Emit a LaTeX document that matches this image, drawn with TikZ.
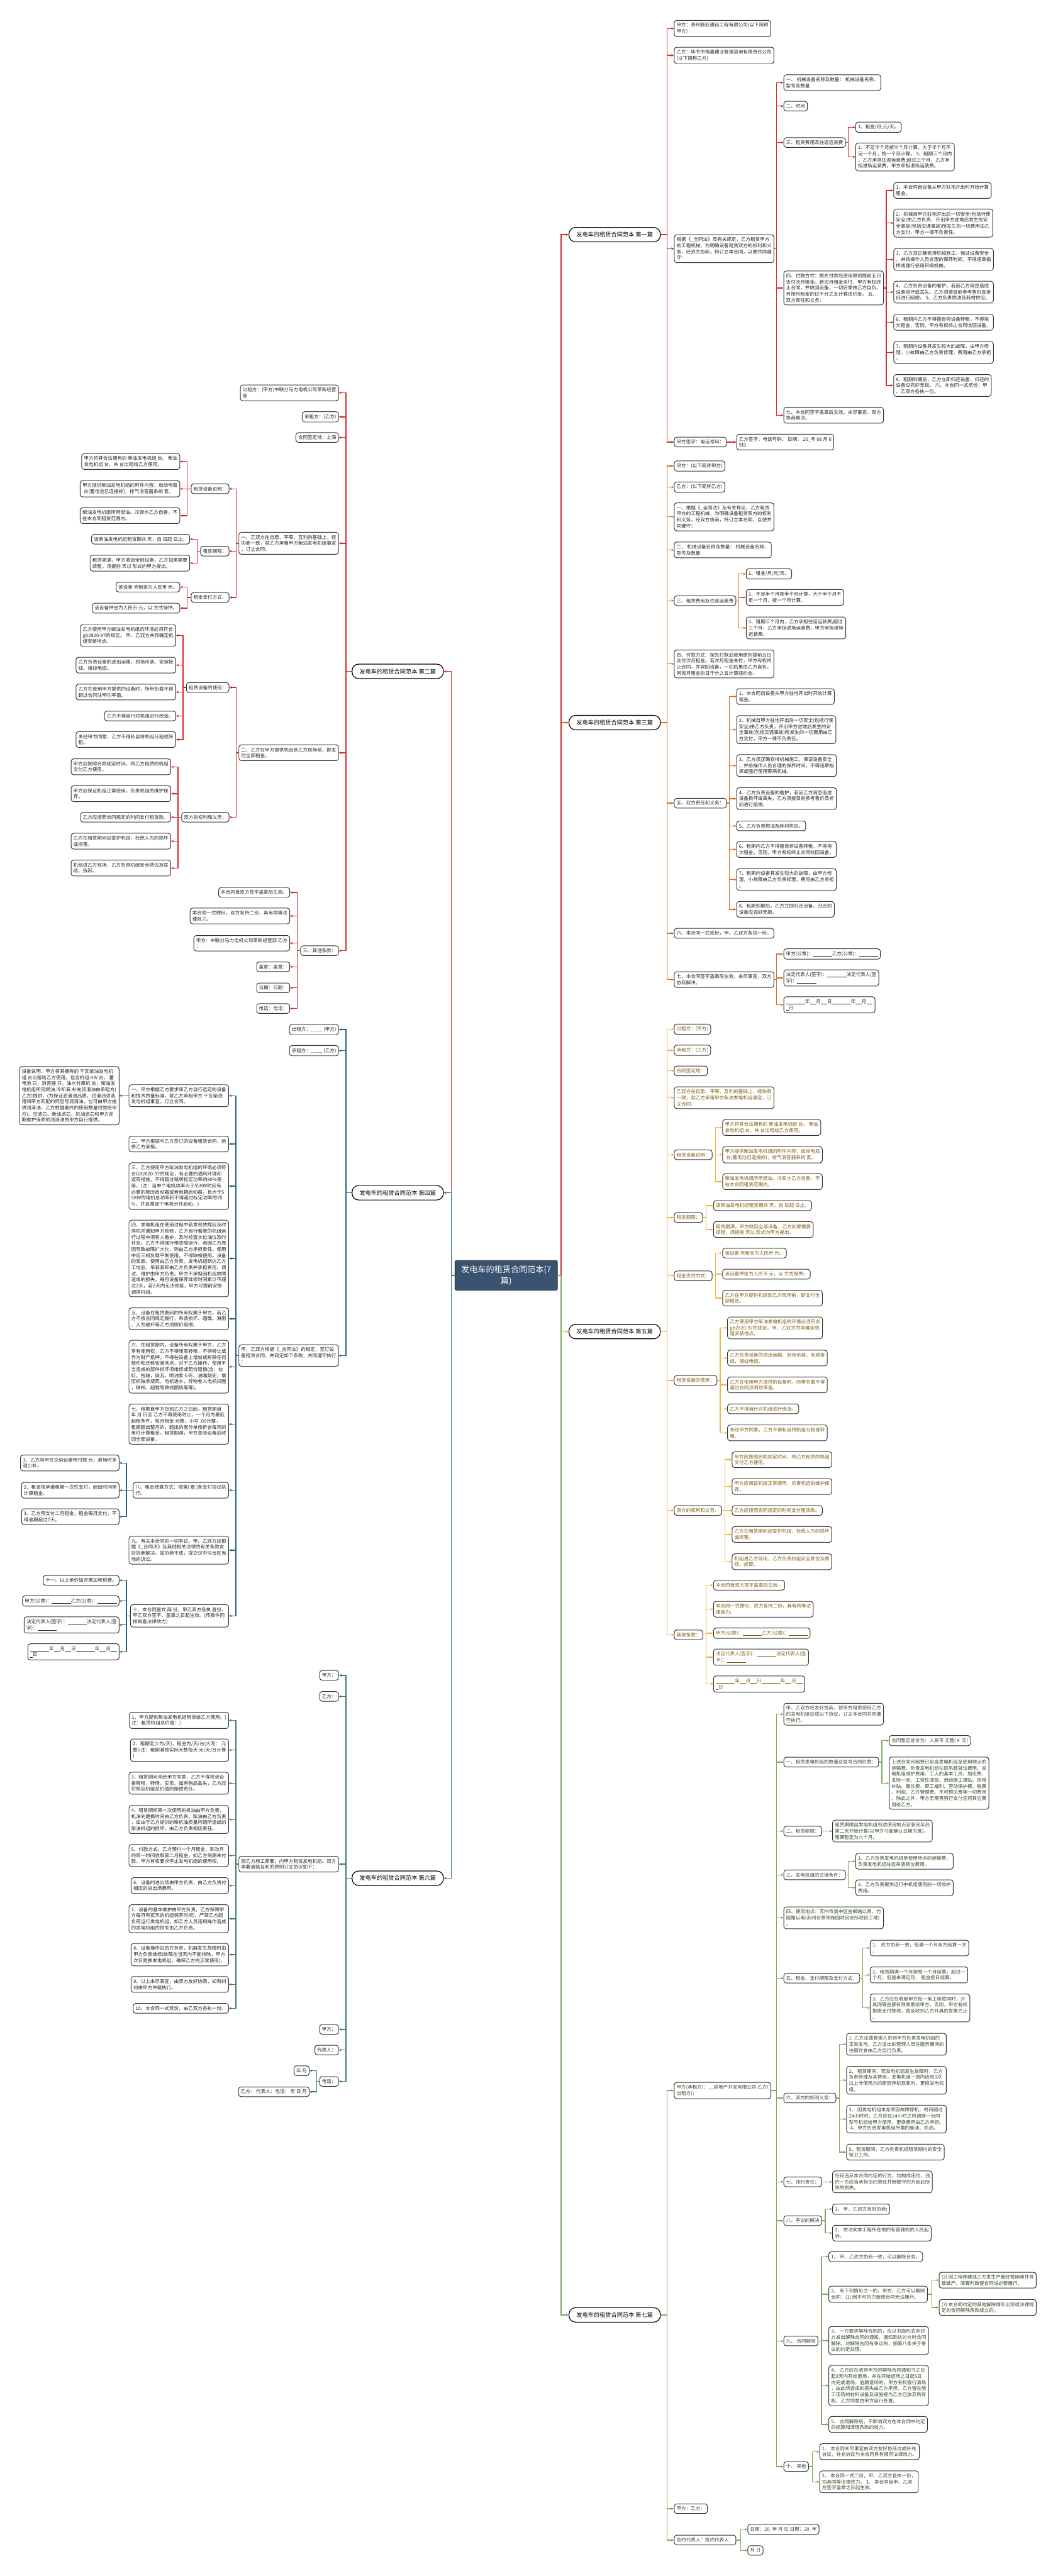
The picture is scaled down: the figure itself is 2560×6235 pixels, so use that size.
\documentclass[tikz,border=0pt]{standalone}
\usepackage{fontspec}
\setmainfont{Noto Sans CJK SC}
\usetikzlibrary{arrows.meta}
\definecolor{cR}{RGB}{210,45,40}
\definecolor{cO}{RGB}{214,110,40}
\definecolor{cB}{RGB}{35,100,135}
\definecolor{cY}{RGB}{236,182,72}
\definecolor{cT}{RGB}{60,125,120}
\definecolor{cG}{RGB}{125,170,95}
\definecolor{cN}{RGB}{58,83,112}
\definecolor{tY}{RGB}{125,90,15}
\definecolor{tG}{RGB}{50,70,40}
\definecolor{tD}{RGB}{35,35,35}
\newcommand\blankL{\rule[-1pt]{23pt}{0.45pt}}
\newcommand\blankS{\rule[-1pt]{7.5pt}{0.45pt}}
\newcommand\blankX{\rule[-1pt]{3pt}{0.45pt}}
\newcommand\conR[3]{\foreach \kid in {#3}{\draw[ln,color=#1] (#2.east) -| ([xshift=-8.5pt]\kid.west) -- (\kid.west);}}
\newcommand\conL[3]{\foreach \kid in {#3}{\draw[ln,color=#1] (#2.west) -| ([xshift=8.5pt]\kid.east) -- (\kid.east);}}
\tikzset{
  box/.style={draw=black!80, line width=0.75pt, rounded corners=3pt, fill=white, align=left, inner xsep=2.8pt, inner ysep=3.2pt, font=\fontsize{5.75pt}{7.35pt}\selectfont},
  R/.style={box, anchor=west},
  L/.style={box, anchor=east},
  lab/.style={draw=black, line width=0.9pt, rounded corners=8pt, fill=white, minimum height=17.5pt, inner xsep=9pt, font=\fontsize{7pt}{8.5pt}\selectfont, text=black},
  ln/.style={line width=1pt, -{Stealth[length=3.2pt,width=3pt]}},
}
\begin{document}
\begin{tikzpicture}[x=0.5pt,y=-0.5pt]
\useasboundingbox (0,0) rectangle (2560,6235);
\fill[white] (0,0) rectangle (2560,6235);

% central node and branch labels
\node[fill=cN, draw=black!80, line width=0.75pt, rounded corners=2pt, text=white, align=center, minimum width=124pt, minimum height=36pt, font=\fontsize{10pt}{13.5pt}\selectfont] (ctr) at (1225,3087) {发电车的租赁合同范本(7\\篇)};
\node[lab, anchor=west] (b1) at (1376,568) {发电车的租赁合同范本 第一篇};
\node[lab, anchor=west] (b3) at (1376,1749) {发电车的租赁合同范本 第三篇};
\node[lab, anchor=west] (b5) at (1376,3223) {发电车的租赁合同范本 第五篇};
\node[lab, anchor=west] (b7) at (1376,5603) {发电车的租赁合同范本 第七篇};
\node[lab, anchor=east] (b2) at (1074,1625) {发电车的租赁合同范本 第二篇};
\node[lab, anchor=east] (b4) at (1074,2887) {发电车的租赁合同范本 第四篇};
\node[lab, anchor=east] (b6) at (1074,4546) {发电车的租赁合同范本 第六篇};

\draw[ln,color=cO] (ctr.east) -| ([xshift=-9pt]b3.west) -- (b3.west);
\draw[ln,color=cR] (ctr.east) -| ([xshift=-9pt]b1.west) -- (b1.west);
\draw[ln,color=cY] (ctr.east) -| ([xshift=-9pt]b5.west) -- (b5.west);
\draw[ln,color=cG] (ctr.east) -| ([xshift=-9pt]b7.west) -- (b7.west);
\draw[ln,color=cR] (ctr.west) -| ([xshift=9pt]b2.east) -- (b2.east);
\draw[ln,color=cB] (ctr.west) -| ([xshift=9pt]b4.east) -- (b4.east);
\draw[ln,color=cT] (ctr.west) -| ([xshift=9pt]b6.east) -- (b6.east);

% ===== Branch 1 =====
\begin{scope}[every node/.append style={text=tD}]
\node[R] (a1) at (1631,69) {甲方：贵州腾亚建设工程有限公司(以下简称\\甲方)};
\node[R] (a2) at (1631,134) {乙方：毕节市恒鑫建业管理咨询有限责任公司\\(以下简称乙方)};
\node[R] (a3) at (1631,602) {根据《\_全同法》及有关规定，乙方租赁甲方\\的工程机械，为明确设备租赁双方的权利和义\\务，经双方协商，特订立本合同，以便共同遵\\守：};
\node[R] (a4) at (1631,1070) {甲方签字：电话号码：};
\node[R] (a4a) at (1782,1070) {乙方签字：电话号码： 日期： 20\_年 08 月 0\\9日};
\node[R] (a3a) at (1896,200) {一、 机械设备名称及数量： 机械设备名称、\\型号及数量};
\node[R] (a3b) at (1896,257) {二、时间};
\node[R] (a3c) at (1896,345) {三、租赁费用及往返运装费};
\node[R] (a3c1) at (2070,308) {1、租金/月;元/天。};
\node[R] (a3c2) at (2070,380) {2、不足半个月按半个月计算，大于半个月不\\足一个月，按一个月计算。 3、租期三个月内\\，乙方承担往返运装费;超过三个月，乙方承\\担进场运装费，甲方承担退场运装费。};
\node[R] (a3d) at (1896,697) {四、付款方式：按先付款后使用原则提前五日\\支付次月租金。若次月租金未付，甲方有权终\\止合同，并收回设备，一切后果由乙方自负。\\另按月租金的日千分之五计算违约金。 五、\\双方责任和义务：};
\node[R] (a3d1) at (2162,461) {1、本合同自设备从甲方驻地开出时开始计算\\租金。};
\node[R] (a3d2) at (2162,540) {2、机械自甲方驻地开出后一切安全(包括行使\\安全)由乙方负责，开出甲方驻地后发生的安\\全事故(包括交通事故)所发生的一切费用由乙\\方支付，甲方一律不负责任。};
\node[R] (a3d3) at (2162,628) {3、乙方须正确安排机械施工，保证设备安全\\，并给操作人员合理的保养时间，不得违章指\\挥或强行使用带病机械。};
\node[R] (a3d4) at (2162,707) {4、乙方负责设备的看护，若因乙方疏忽造成\\设备损坏或丢失，乙方须按目前参考售价及折\\旧进行赔偿。 5、乙方负责燃油及耗材供应。};
\node[R] (a3d5) at (2162,780) {6、租期内乙方不得擅自将设备转租，不得拖\\欠租金，否则，甲方有权终止合同收回设备。};
\node[R] (a3d6) at (2162,853) {7、租期内设备其发生较大的故障，由甲方修\\理。小故障由乙方负责修理，费用由乙方承担\\。};
\node[R] (a3d7) at (2162,933) {8、租期到期后，乙方立即归还设备，归还的\\设备应完好无损。 六、本合同一式贰份，甲\\、乙双方各执一份。};
\node[R] (a3e) at (1896,1005) {七、本合同签字盖章后生效。未尽事宜，双方\\协商解决。};
\end{scope}
\conR{cR}{b1}{a1,a2,a3,a4}
\conR{cR}{a4}{a4a}
\conR{cR}{a3}{a3a,a3b,a3c,a3d,a3e}
\conR{cR}{a3c}{a3c1,a3c2}
\conR{cR}{a3d}{a3d1,a3d2,a3d3,a3d4,a3d5,a3d6,a3d7}

% ===== Branch 3 =====
\begin{scope}[every node/.append style={text=tD}]
\node[R] (c1) at (1631,1128) {甲方：(以下简称甲方)};
\node[R] (c2) at (1631,1179) {乙方：(以下简称乙方)};
\node[R] (c3) at (1631,1251) {一、根据《\_全同法》及有关规定，乙方租赁\\甲方的工程机械，为明确设备租赁双方的权利\\和义务，经双方协商，特订立本合同，以便共\\同遵守：};
\node[R] (c4) at (1631,1331) {二、 机械设备名称及数量： 机械设备名称、\\型号及数量};
\node[R] (c5) at (1631,1454) {三、租赁费用及往返运装费};
\node[R] (c5a) at (1805,1389) {1、租金/月;元/天。};
\node[R] (c5b) at (1805,1446) {2、不足半个月按半个月计算，大于半个月不\\足一个月，按一个月计算。};
\node[R] (c5c) at (1805,1520) {3、租期三个月内，乙方承担往返运装费;超过\\三个月，乙方承担进场运装费，甲方承担退场\\运装费。};
\node[R] (c6) at (1631,1607) {四、付款方式：按先付款后使用原则提前五日\\支付次月租金。若次月租金未付，甲方有权终\\止合同，并收回设备，一切后果由乙方自负。\\另按月租金的日千分之五计算违约金。};
\node[R] (c7) at (1631,1944) {五、双方责任和义务：};
\node[R] (c7a) at (1782,1686) {1、本合同自设备从甲方驻地开出时开始计算\\租金。};
\node[R] (c7b) at (1782,1766) {2、机械自甲方驻地开出后一切安全(包括行使\\安全)由乙方负责，开出甲方驻地后发生的安\\全事故(包括交通事故)所发生的一切费用由乙\\方支付，甲方一律不负责任。};
\node[R] (c7c) at (1782,1853) {3、乙方须正确安排机械施工，保证设备安全\\，并给操作人员合理的保养时间，不得违章指\\挥或强行使用带病机械。};
\node[R] (c7d) at (1782,1933) {4、乙方负责设备的看护，若因乙方疏忽造成\\设备损坏或丢失，乙方须按目前参考售价及折\\旧进行赔偿。};
\node[R] (c7e) at (1782,1999) {5、乙方负责燃油及耗材供应。};
\node[R] (c7f) at (1782,2056) {6、租期内乙方不得擅自将设备转租，不得拖\\欠租金，否则，甲方有权终止合同收回设备。};
\node[R] (c7g) at (1782,2129) {7、租期内设备其发生较大的故障，由甲方修\\理。小故障由乙方负责修理，费用由乙方承担\\。};
\node[R] (c7h) at (1782,2201) {8、租期到期后，乙方立即归还设备，归还的\\设备应完好无损。};
\node[R] (c8) at (1631,2259) {六、本合同一式贰份，甲、乙双方各执一份。};
\node[R] (c9) at (1631,2371) {七、本合同签字盖章后生效。未尽事宜，双方\\协商解决。};
\node[R] (c9a) at (1896,2309) {甲方(公章)：\blankL 乙方(公章)：\blankL};
\node[R] (c9b) at (1896,2367) {法定代表人(签字)：\blankL 法定代表人(签\\字)：\blankL};
\node[R] (c9c) at (1896,2432) {\blankL 年\blankS 月\blankS 日\blankL 年\blankS 月\blankS\\\blankX 日};
\end{scope}
\conR{cO}{b3}{c1,c2,c3,c4,c5,c6,c7,c8,c9}
\conR{cO}{c5}{c5a,c5b,c5c}
\conR{cO}{c7}{c7a,c7b,c7c,c7d,c7e,c7f,c7g,c7h}
\conR{cO}{c9}{c9a,c9b,c9c}

% ===== Branch 5 =====
\begin{scope}[every node/.append style={text=tY}]
\node[R] (e1) at (1631,2491) {出租方：(甲方)};
\node[R] (e2) at (1631,2542) {承租方：(乙方)};
\node[R] (e3) at (1631,2592) {合同签定地：};
\node[R] (e4) at (1631,2657) {乙双方在自愿、平等、互利的基础上，经协商\\一致，就乙方承租甲方柴油发电机组事宜，订\\立合同：};
\node[R] (e5) at (1631,2795) {租赁设备说明：};
\node[R] (e5a) at (1748,2729) {甲方将其合法拥有的 柴油发电机组 台、 柴油\\发电机组 台，共 台出租给乙方使用。};
\node[R] (e5b) at (1748,2795) {甲方提供柴油发电机组的附件内容：启动电瓶\\\hspace*{1.5pt}台(蓄电池已连接好)，排气消音器系统 套。};
\node[R] (e5c) at (1748,2860) {柴油发电机组所用燃油、冷却水乙方自备，不\\在本合同租赁范围内。};
\node[R] (e6) at (1631,2947) {租赁期限：};
\node[R] (e6a) at (1726,2918) {该柴油发电机组租赁期共 天，自 日起 日止。};
\node[R] (e6b) at (1726,2976) {租赁期满，甲方收回全部设备，乙方如果需要\\续租，须提前 天以 形式向甲方提出。};
\node[R] (e7) at (1631,3088) {租金支付方式：};
\node[R] (e7a) at (1748,3033) {该设备 天租金为人民币 元。};
\node[R] (e7b) at (1748,3084) {该设备押金为人民币 元，以 方式保押。};
\node[R] (e7c) at (1748,3142) {乙方在甲方提供机组到乙方现场前，即支付全\\部租金。};
\node[R] (e8) at (1631,3341) {租赁设备的使用：};
\node[R] (e8a) at (1760,3214) {乙方使用甲方柴油发电机组的环境必须符合\\gb2820-97的规定。甲、乙双方共同确定机\\组安装地点。};
\node[R] (e8b) at (1760,3287) {乙方负责设备的进出运输、到场吊装、安装接\\线、接线电缆。};
\node[R] (e8c) at (1760,3352) {乙方在使用甲方提供的设备时，所带负载不得\\超过合同注明功率值。};
\node[R] (e8d) at (1760,3410) {乙方不得自行对机组进行改造。};
\node[R] (e8e) at (1760,3468) {未经甲方同意，乙方不得私自将机组分租或转\\租。};
\node[R] (e9) at (1631,3656) {双方的权利和义务：};
\node[R] (e9a) at (1771,3533) {甲方应按照合同规定时间，将乙方租赁的机组\\交付乙方使用。};
\node[R] (e9b) at (1771,3598) {甲方应保证机组正常使用，负责机组的维护保\\养。};
\node[R] (e9c) at (1771,3656) {乙方应按照合同规定的时间支付租赁款。};
\node[R] (e9d) at (1771,3714) {乙方在租赁期间应爱护机组，杜绝人为的损坏\\或损害。};
\node[R] (e9e) at (1771,3780) {机组进乙方现场，乙方负责机组安全就位及联\\结、拆卸。};
\node[R] (e10) at (1631,3957) {其他条款：};
\node[R] (e10a) at (1726,3837) {本合同自双方签字盖章后生效。};
\node[R] (e10b) at (1726,3895) {本合同一式肆份，双方各持二份，具有同等法\\律效力。};
\node[R] (e10c) at (1726,3953) {甲方(公章)：\blankL 乙方(公章)：\blankL};
\node[R] (e10d) at (1726,4011) {法定代表人(签字)：\blankL 法定代表人(签\\字)：\blankL};
\node[R] (e10e) at (1726,4076) {\blankL 年\blankS 月\blankS 日\blankL 年\blankS 月\blankS\\\blankX 日};
\end{scope}
\conR{cY}{b5}{e1,e2,e3,e4,e5,e6,e7,e8,e9,e10}
\conR{cY}{e5}{e5a,e5b,e5c}
\conR{cY}{e6}{e6a,e6b}
\conR{cY}{e7}{e7a,e7b,e7c}
\conR{cY}{e8}{e8a,e8b,e8c,e8d,e8e}
\conR{cY}{e9}{e9a,e9b,e9c,e9d,e9e}
\conR{cY}{e10}{e10a,e10b,e10c,e10d,e10e}

% ===== Branch 7 =====
\begin{scope}[every node/.append style={text=tG}]
\node[R] (g1) at (1631,5060) {甲方(承租方)：\_\_房地产开发有限公司 乙方(\\出租方)：};
\node[R] (g1a) at (1896,4149) {甲、乙双方经友好协商，就甲方租赁使用乙方\\的发电机组达成以下协议，订立本合同共同遵\\守执行。};
\node[R] (g1b) at (1896,4265) {一、租赁发电机组的数量及型号合同价款：};
\node[R] (g1b1) at (2151,4213) {合同暂定总价为：人民币 元整(￥ 元)};
\node[R] (g1b2) at (2151,4316) {上述合同月租费已包含发电机组至使用地点的\\运输费、负责发电机组往返吊装就位费用、发\\电机组维护费用、工人的基本工资、加班费、\\五险一金、工资性津贴、流动施工津贴、房租\\补贴、餐饮费、职工福利、劳动保护费、税费\\、利润、乙方管理费、不可预见费等一切费用\\。除此之外，甲方无需再另行支付任何其它费\\用给乙方。};
\node[R] (g1c) at (1896,4432) {二、租赁期限：};
\node[R] (g1c1) at (2014,4432) {租赁期限自发电机组到达使用地点安装完毕后\\第二天开始计算(以甲方书面确认日期为准)，\\租期暂定为六个月。};
\node[R] (g1d) at (1896,4538) {三、发电机组的交接条件：};
\node[R] (g1d1) at (2070,4505) {1、乙方负责发电机组至使用地点的运输费、\\负责发电机组往返吊装就位费用。};
\node[R] (g1d2) at (2070,4569) {2、乙方负责提供运行中机组使用的一切维护\\费用。};
\node[R] (g1e) at (1896,4642) {四、使用地点：苏州市吴中区金枫路以西、竹\\园路以南(苏州合景领峰园项目会所项目工地)\\。};
\node[R] (g1f) at (1896,4788) {五、租金、支付期限及支付方式：};
\node[R] (g1f1) at (2105,4715) {1、 双方协商一致，每满一个月双方结算一次\\。};
\node[R] (g1f2) at (2105,4780) {2、租赁期满一个月按照一个月结算，超过一\\个月，但是未满足月， 租金按日结算。};
\node[R] (g1f3) at (2105,4860) {3、乙方应在收取甲方每一笔工程款同时，开\\具同等金额有效发票给甲方。否则，甲方有权\\拒绝支付款项，直至收到乙方开具的发票为止\\。};
\node[R] (g1g) at (1896,5078) {六、双方的权利义务：};
\node[R] (g1g1) at (2048,4948) {1. 乙方派遣管理人员到甲方负责发电机组的\\正常发电，乙方派出的管理人员在服务期间的\\住宿饮食由乙方自行负责。};
\node[R] (g1g2) at (2048,5035) {2、 租赁期间，若发电机组发生故障时，乙方\\负责修理及其费用。发电机组一周内出现3次\\以上非使用方的原因停机现象时，更换发电机\\组。};
\node[R] (g1g3) at (2048,5129) {3、 因发电机组本身原因故障停机，时间超过\\24小时时，乙方应在24小时之内调换一台同\\型号机组给甲方使用，更换费用由乙方承担。\\\hspace*{1.5pt}4、甲方负责发电机组所需的柴油、机油。};
\node[R] (g1g4) at (2048,5209) {5、租赁期间，乙方负责机组租赁期内的安全\\保卫工作。};
\node[R] (g1h) at (1896,5281) {七、违约责任：};
\node[R] (g1h1) at (2014,5281) {任何违反本合同约定的行为，均构成违约，违\\约一方应当承担违约责任并赔偿守约方因此所\\受的损失。};
\node[R] (g1i) at (1896,5375) {八、争议的解决};
\node[R] (g1i1) at (2014,5347) {1、 甲、乙双方友好协商;};
\node[R] (g1i2) at (2014,5405) {2、 依法向本工程所在地的有管辖权的人民起\\诉。};
\node[R] (g1j) at (1896,5666) {九、 合同解除};
\node[R] (g1j1) at (2005,5462) {1、 甲、乙双方协商一致，可以解除合同。};
\node[R] (g1j2) at (2005,5553) {2、 有下列情形之一的，甲方、乙方可以解除\\合同：(1) 因不可抗力致使合同无法履行。};
\node[R] (g1j2a) at (2272,5519) {(2) 因工程停建或乙方发生严重经营困难并导\\致破产、清算时致使合同没必要履行。};
\node[R] (g1j2b) at (2272,5585) {(3) 本合同约定的其他解除情形出现或法律规\\定的合同解除条款成立的。};
\node[R] (g1j3) at (2005,5665) {3、 一方要求解除合同的，应以书面形式向对\\方发出解除合同的通知，通知到达对方时合同\\解除。对解除合同有争议的，按第八条关于争\\议的约定处理。};
\node[R] (g1j4) at (2005,5774) {4、 乙方应在收到甲方的解除合同通知书之日\\起3天内开始退场，并在开始退场之日起5日\\内完成退场，逾期退场的，甲方有权强行清场\\，由此所造成的损失由乙方承担，乙方留在施\\工现场的材料设备及设施视为乙方已放弃所有\\权，乙方同意由甲方自行处置。};
\node[R] (g1j5) at (2005,5868) {5、 合同解除后，不影响双方在本合同中约定\\的结算和清理条款的效力。};
\node[R] (g1k) at (1896,5970) {十、 其他};
\node[R] (g1k1) at (1983,5934) {1、 本合同未尽事宜由双方友好协商达成补充\\协议，补充协议与本合同具有相同法律效力。};
\node[R] (g1k2) at (1983,6007) {2、 本合同一式二份，甲、乙双方各执一份，\\均具同等法律效力。 3、 本合同自甲、乙双\\方签字盖章之日起生效。};
\node[R] (g2) at (1631,6072) {甲方：乙方：};
\node[R] (g3) at (1631,6148) {签约代表人：签约代表人：};
\node[R] (g3a) at (1809,6122) {日期：20\_年 月 日 日期：20\_年};
\node[R] (g3b) at (1809,6173) {月 日};
\end{scope}
\conR{cG}{b7}{g1,g2,g3}
\conR{cG}{g1}{g1a,g1b,g1c,g1d,g1e,g1f,g1g,g1h,g1i,g1j,g1k}
\conR{cG}{g1b}{g1b1,g1b2}
\conR{cG}{g1c}{g1c1}
\conR{cG}{g1d}{g1d1,g1d2}
\conR{cG}{g1f}{g1f1,g1f2,g1f3}
\conR{cG}{g1g}{g1g1,g1g2,g1g3,g1g4}
\conR{cG}{g1h}{g1h1}
\conR{cG}{g1i}{g1i1,g1i2}
\conR{cG}{g1j}{g1j1,g1j2,g1j3,g1j4,g1j5}
\conR{cG}{g1j2}{g1j2a,g1j2b}
\conR{cG}{g1k}{g1k1,g1k2}
\conR{cG}{g3}{g3a,g3b}

% ===== Branch 2 =====
\begin{scope}[every node/.append style={text=tD}]
\node[L] (h1) at (820,951) {出租方：(甲方)中联分马力电机公司革新经营\\部};
\node[L] (h2) at (820,1009) {承租方：(乙方)};
\node[L] (h3) at (820,1059) {合同签定地：上海};
\node[L] (h4) at (820,1315) {一、乙双方在自愿、平等、互利的基础上，经\\协商一致，就乙方承租甲方柴油发电机组事宜\\，订立合同：};
\node[L] (h4a) at (555,1183) {租赁设备说明：};
\node[L] (h4a1) at (436,1117) {甲方将其合法拥有的 柴油发电机组 台、 柴油\\发电机组 台，共 台出租给乙方使用。};
\node[L] (h4a2) at (436,1183) {甲方提供柴油发电机组的附件内容：启动电瓶\\\hspace*{1.5pt}台(蓄电池已连接好)，排气消音器系统 套。};
\node[L] (h4a3) at (436,1248) {柴油发电机组所用燃油、冷却水乙方自备，不\\在本合同租赁范围内。};
\node[L] (h4b) at (555,1334) {租赁期限：};
\node[L] (h4b1) at (460,1305) {该柴油发电机组租赁期共 天，自 日起 日止。};
\node[L] (h4b2) at (460,1363) {租赁期满，甲方收回全部设备，乙方如果需要\\续租，须提前 天以 形式向甲方提出。};
\node[L] (h4c) at (555,1446) {租金支付方式：};
\node[L] (h4c1) at (436,1421) {该设备 天租金为人民币 元。};
\node[L] (h4c2) at (436,1472) {该设备押金为人民币 元，以 方式保押。};
\node[L] (h5) at (820,1822) {二、乙方在甲方提供机组到乙方现场前，即支\\付全部租金。};
\node[L] (h5a) at (555,1664) {租赁设备的使用：};
\node[L] (h5a1) at (426,1538) {乙方使用甲方柴油发电机组的环境必须符合\\gb2820-97的规定。 甲、乙双方共同确定机\\组安装地点。};
\node[L] (h5a2) at (426,1610) {乙方负责设备的进出运输、到场吊装、安装接\\线、接线电缆。};
\node[L] (h5a3) at (426,1675) {乙方在使用甲方提供的设备时，所带负载不得\\超过合同注明功率值。};
\node[L] (h5a4) at (426,1733) {乙方不得自行对机组进行改造。};
\node[L] (h5a5) at (426,1790) {未经甲方同意，乙方不得私自将机组分租或转\\租。};
\node[L] (h5b) at (555,1978) {双方的权利和义务：};
\node[L] (h5b1) at (414,1856) {甲方应按照合同规定时间，将乙方租赁的机组\\交付乙方使用。};
\node[L] (h5b2) at (414,1921) {甲方应保证机组正常使用，负责机组的维护保\\养。};
\node[L] (h5b3) at (414,1978) {乙方应按照合同规定的时间支付租赁款。};
\node[L] (h5b4) at (414,2036) {乙方在租赁期间应爱护机组，杜绝人为的损坏\\或损害。};
\node[L] (h5b5) at (414,2101) {机组进乙方现场，乙方负责机组安全就位及联\\结、拆卸。};
\node[L] (h6) at (820,2301) {三、其他条款：};
\node[L] (h6a) at (702,2160) {本合同自双方签字盖章后生效。};
\node[L] (h6b) at (702,2217) {本合同一式肆份，双方各持二份，具有同等法\\律效力。};
\node[L] (h6c) at (702,2283) {甲方：中联分马力电机公司革新经营部 乙方\\：};
\node[L] (h6d) at (702,2340) {盖章：盖章：};
\node[L] (h6e) at (702,2391) {日期：日期：};
\node[L] (h6f) at (702,2441) {电话：电话：};
\end{scope}
\conL{cR}{b2}{h1,h2,h3,h4,h5,h6}
\conL{cR}{h4}{h4a,h4b,h4c}
\conL{cR}{h4a}{h4a1,h4a2,h4a3}
\conL{cR}{h4b}{h4b1,h4b2}
\conL{cR}{h4c}{h4c1,h4c2}
\conL{cR}{h5}{h5a,h5b}
\conL{cR}{h5a}{h5a1,h5a2,h5a3,h5a4,h5a5}
\conL{cR}{h5b}{h5b1,h5b2,h5b3,h5b4,h5b5}
\conL{cR}{h6}{h6a,h6b,h6c,h6d,h6e,h6f}

% ===== Branch 4 =====
\begin{scope}[every node/.append style={text=tD}]
\node[L] (k1) at (820,2492) {出租方：\_ \_\_\_ (甲方)};
\node[L] (k2) at (820,2543) {承租方：\_ \_\_\_ (乙方)};
\node[L] (k3) at (820,3281) {甲、乙双方根据《\_合同法》的规定，签订设\\备租赁合同，并商定如下条款，共同遵守执行\\：};
\node[L] (k3a) at (554,2652) {一、甲方根据乙方要求和乙方自行选定的设备\\和技术质量标准，就乙方承租甲方 千瓦柴油\\发电机组事宜，订立合同。};
\node[L] (k3a1) at (289,2652) {设备说明：甲方将其拥有的 千瓦柴油发电机\\组 台出租给乙方使用。包含机组 KW 台， 蓄\\电池 只，消音器 只，油水分离机 台，柴油发\\电机组所用燃油.冷却液.补充润滑油由承租方(\\乙方)提供，(为保证润滑油品质，润滑油须选\\用和甲方匹配的同型号润滑油，也可由甲方提\\供润滑油，乙方根据最终的使用数量付款给甲\\方)。空滤芯、柴油滤芯，机油滤芯和甲方定\\期维护保养的润滑油由甲方自行提供。};
\node[L] (k3b) at (554,2769) {二、甲方根据与乙方签订的设备租赁合同，运\\费乙方承担。};
\node[L] (k3c) at (554,2871) {三、乙方使用甲方柴油发电机组的环境必须符\\合GB2820-97的规定，有必要的通风环境和\\遮雨措施，不得超过铭牌标定功率的80\%使\\用，(注：当单个电机功率大于55KW时应有\\必要的降压启动器或者自耦启动器，且大于5\\5KW的电机总功率和不得超过标定功率的70\\\%，并且需逐个电机分开启动。)};
\node[L] (k3d) at (554,3046) {四、发电机组在使用过程中若发现故障应及时\\停机并通知甲方检修，乙方自行看管的机组运\\行过程中须有人看护，及时检查水位油位及时\\补充，乙方不得强行带故障运行，若因乙方原\\因导致故障扩大化，则由乙方承担责任。使用\\中应三相负载平衡使用，不得缺相使用。设备\\的安装、使用由乙方负责。发电机组到达乙方\\工地后，吊装装卸由乙方负责并承担责任。调\\试、维护由甲方负责。甲方不承担因机组故障\\造成的损失，每月设备保养维修时间累计不超\\过2天，若2天内无法修复，甲方可提前安排\\调换机组。};
\node[L] (k3e) at (554,3192) {五、设备在租赁期间的所有权属于甲方。若乙\\方不按合同规定履行，吊装损坏、超载、淋雨\\、人为破坏等乙方须照价赔偿。};
\node[L] (k3f) at (554,3308) {六、在租赁期内，设备所有权属于甲方，乙方\\享有使用权，乙方不得随意转租，不得转让或\\作为财产抵押，不得在设备上增加或拆除任何\\部件和迁移安装地点，对于乙方操作、使用不\\当造成的部件损坏须维修或照价赔偿(含：拉\\缸，抱轴，烧瓦，喷油泵卡死、油嘴烧死，增\\压机轴承烧死，电机进水，异物卷入电机扫膛\\，缺相、超载导致线圈烧黑等)。};
\node[L] (k3g) at (554,3447) {七、租期自甲方货到乙方之日起，租赁期自\\年 月 日至 乙方不再使用时止，一个月为最低\\起租条件，每月租金 元整，小写 .00元整，\\租期超出整月的，超出的部分单按折合每天的\\单价计算租金，租赁期满，甲方查验设备后收\\回全部设备。};
\node[L] (k3h) at (554,3607) {八、租金结算方式：按第( 壹 )条支付协议执\\行。};
\node[L] (k3h1) at (289,3541) {1、乙方向甲方交纳设备预付款 元，退场时多\\退少补。};
\node[L] (k3h2) at (289,3607) {2、租金按承诺租期一次性支付，超出时间单\\计算租金。};
\node[L] (k3h3) at (289,3671) {3、乙方预支付二月租金，租金每月支付，不\\得逾期超过7天。};
\node[L] (k3i) at (554,3752) {九、有关本合同的一切争议，甲、乙双方应根\\据《\_合同法》及其他相关法律的有关条款友\\好协商解决。如协商不成，提交汉中汉台区当\\地的诉讼。};
\node[L] (k3j) at (554,3911) {十、本合同壹式 两 份，甲乙双方各执 壹份，\\甲乙双方签字、盖章之日起生效。(传真件同\\样具备法律效力)};
\node[L] (k3j1) at (289,3825) {十一、以上单价如开票加收税费。};
\node[L] (k3j2) at (289,3875) {甲方(公章)：\blankL 乙方(公章)：\blankL};
\node[L] (k3j3) at (289,3933) {法定代表人(签字)：\blankL 法定代表人(签\\字)：\blankL};
\node[L] (k3j4) at (289,3998) {\blankL 年\blankS 月\blankS 日\blankL 年\blankS 月\blankS\\\blankX 日};
\end{scope}
\conL{cB}{b4}{k1,k2,k3}
\conL{cB}{k3}{k3a,k3b,k3c,k3d,k3e,k3f,k3g,k3h,k3i,k3j}
\conL{cB}{k3a}{k3a1}
\conL{cB}{k3h}{k3h1,k3h2,k3h3}
\conL{cB}{k3j}{k3j1,k3j2,k3j3,k3j4}

% ===== Branch 6 =====
\begin{scope}[every node/.append style={text=tD}]
\node[L] (m1) at (820,4055) {甲方：};
\node[L] (m2) at (820,4106) {乙方：};
\node[L] (m3) at (820,4512) {因乙方施工需要，向甲方租赁发电机组。双方\\本着诚信互利的原则订立协议如下：};
\node[L] (m3a) at (554,4164) {1、甲方提供柴油发电机组租赁给乙方使用。(\\注：租赁机组总价值：)};
\node[L] (m3b) at (554,4236) {2、租期至少为/天)，租金为/天/台(大写： 元\\整)(注：租期满按实际天数每天 元/天/台计算\\)};
\node[L] (m3c) at (554,4316) {3、租赁期间未经甲方同意，乙方不得将该设\\备转租，转借，买卖。如有物品丢失，乙方应\\付相应机组总价值的赔偿责任。};
\node[L] (m3d) at (554,4404) {4、租赁期间第一次使用的机油由甲方负责，\\机油到更换时间由乙方负责，柴油由乙方负责\\，如由于乙方提供的柴机油质量问题所造成的\\柴油机组的损坏，由乙方负责相应责任。};
\node[L] (m3e) at (554,4491) {5、付款方式：乙方预付一个月租金，到次月\\的同一时间收取第二月租金，如乙方到期未付\\款，甲方有权要求停止发电机组的使用权。};
\node[L] (m3f) at (554,4564) {6、设备的进出场由甲方负责，由乙方负责付\\相应的进出场费用。};
\node[L] (m3g) at (554,4644) {7、设备的基本维护由甲方负责，乙方保障甲\\方每月有贰天的机组保养时间)，严禁乙方超\\负荷运行发电机组，如乙方人员违规操作造成\\的发电机组的损失由乙方负责。};
\node[L] (m3h) at (554,4731) {8、设备操作由四方负责，机器发生故障时由\\甲方负责维修(故障在当天内不能排除，甲方\\次日更换发电机组，确保乙方的正常使用)。};
\node[L] (m3i) at (554,4803) {9、以上未尽事宜，由双方友好协商，如有纠\\纷由甲方仲裁执行。};
\node[L] (m3j) at (554,4861) {10、本合同一式贰份，由乙双方各执一份。};
\node[L] (m4) at (820,4912) {甲方：};
\node[L] (m5) at (820,4962) {代表人：};
\node[L] (m6) at (820,5038) {电话：};
\node[L] (m6a) at (749,5012) {年 月};
\node[L] (m6b) at (749,5063) {乙方： 代表人：电话： 年 日 月};
\end{scope}
\conL{cT}{b6}{m1,m2,m3,m4,m5,m6}
\conL{cT}{m3}{m3a,m3b,m3c,m3d,m3e,m3f,m3g,m3h,m3i,m3j}
\conL{cT}{m6}{m6a,m6b}
\end{tikzpicture}
\end{document}
